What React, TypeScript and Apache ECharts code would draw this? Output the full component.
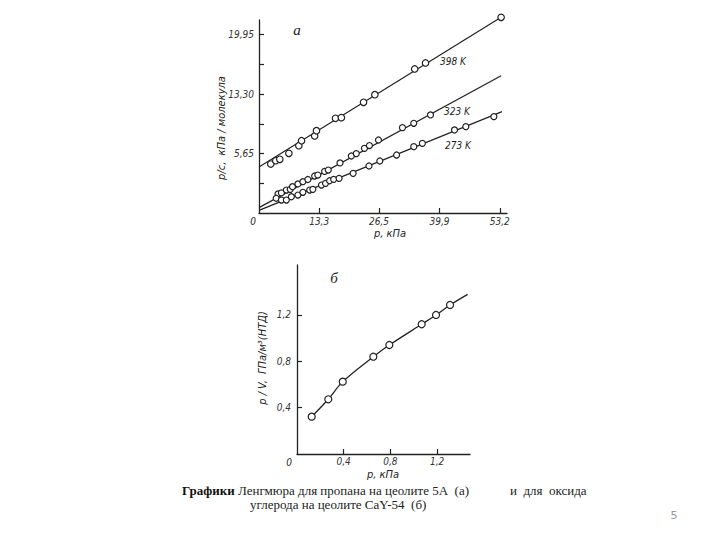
import React, { useEffect, useRef } from "react";
import * as echarts from "echarts";

// ---- Chart (а): Langmuir plots for propane on zeolite 5A ----
const xTicksA = [13.3, 26.5, 39.9, 53.2];
const xTickLabelsA = ["13,3", "26,5", "39,9", "53,2"];
const yMinorTicksA = [3.325, 6.65, 9.975, 13.3, 16.625, 19.95];
const yTicksA = [6.65, 13.3, 19.95];
const yTickLabelsA = ["5,65", "13,30", "19,95"];

const x398 = [2.6, 3.7, 4.6, 6.6, 8.8, 9.4, 12.3, 12.7, 16.9, 18.2, 23.1, 25.6, 34.4, 36.8, 53.5];
const y398 = [5.48, 5.85, 6.01, 6.68, 7.53, 8.09, 8.62, 9.21, 10.6, 10.67, 12.39, 13.24, 16.12, 16.79, 21.9];

const x323 = [4.2, 4.95, 6.05, 6.9, 7.4, 8.6, 9.7, 10.8, 12.3, 13.0, 14.5, 15.3, 17.9, 20.4, 21.5, 23.3, 24.4, 26.4, 31.7, 34.2, 37.9];
const y323 = [2.13, 2.25, 2.57, 2.65, 2.94, 3.25, 3.5, 3.75, 4.14, 4.25, 4.65, 4.81, 5.6, 6.38, 6.65, 7.24, 7.55, 8.17, 9.55, 10.04, 10.97];

const x273 = [3.8, 4.95, 6.05, 7.15, 8.6, 9.7, 11.2, 11.9, 13.8, 14.7, 15.6, 16.5, 17.7, 20.8, 24.3, 26.7, 30.4, 34.2, 36.1, 43.2, 45.7, 51.9];
const y273 = [1.65, 1.45, 1.45, 1.82, 2.01, 2.32, 2.57, 2.65, 3.13, 3.32, 3.61, 3.77, 3.88, 4.44, 5.26, 5.82, 6.49, 7.42, 7.8, 9.29, 9.66, 10.78];

const fitX398 = [0, 53.5];
const fitY398 = [5.15, 21.9];
const fitX323 = [0, 53.5];
const fitY323 = [0.6, 15.35];
const fitX273 = [0, 53.7];
const fitY273 = [0.3, 11.34];

// ---- Chart (б): CO on zeolite CaY-54 ----
const xTicksB = [0.4, 0.8, 1.2];
const xTickLabelsB = ["0,4", "0,8", "1,2"];
const yTicksB = [0.4, 0.8, 1.2];
const yTickLabelsB = ["0,4", "0,8", "1,2"];
const xB = [0.126, 0.268, 0.392, 0.654, 0.791, 1.068, 1.191, 1.311];
const yB = [0.322, 0.472, 0.624, 0.839, 0.94, 1.119, 1.199, 1.285];
const curveEndB = [1.462, 1.377];

const zip = (xs: number[], ys: number[]) => xs.map((x, i) => [x, ys[i]]);

const INK = "#222";
const LABEL_FONT = "'Liberation Sans Narrow', 'DejaVu Sans Condensed', 'DejaVu Sans', sans-serif";
const SERIF = "'Liberation Serif', 'DejaVu Serif', serif";

function axisCommon(ticks: number[], labels: string[], margin: number, labelTicks?: number[]) {
  const lt = labelTicks || ticks;
  return {
    type: "value" as const,
    axisLine: { show: true, lineStyle: { color: INK, width: 1.3 } },
    axisTick: { show: true, inside: true, length: 5, customValues: ticks, lineStyle: { color: INK, width: 1.2 } },
    axisLabel: {
      show: true,
      customValues: lt,
      formatter: (v: number) => {
        const i = lt.findIndex((t) => Math.abs(t - v) < 1e-6);
        return i >= 0 ? labels[i] : "";
      },
      fontFamily: LABEL_FONT,
      fontStyle: "italic",
      fontSize: 10,
      color: "#333",
      margin,
    },
    splitLine: { show: false },
  };
}

const fitLine = (data: number[][]) => ({
  type: "line",
  xAxisIndex: 0,
  yAxisIndex: 0,
  data,
  symbol: "none",
  clip: false,
  lineStyle: { color: INK, width: 1.2 },
  silent: true,
});

const dots = (data: number[][], axis: number, size: number) => ({
  type: "scatter",
  xAxisIndex: axis,
  yAxisIndex: axis,
  data,
  symbol: "circle",
  symbolSize: size,
  clip: false,
  itemStyle: { color: "#fff", borderColor: INK, borderWidth: 1.2, opacity: 1 },
  z: 3,
  silent: true,
});

const txt = (x: number, y: number, text: string, extra: any = {}) => ({
  type: "text",
  x,
  y,
  silent: true,
  style: {
    text,
    fill: "#222",
    font: `italic 10px ${LABEL_FONT}`,
    textAlign: "center",
    textVerticalAlign: "middle",
    ...extra,
  },
});

export default function App() {
  const ref = useRef<HTMLDivElement>(null);

  useEffect(() => {
    if (!ref.current) return;
    const chart = echarts.init(ref.current, undefined, { renderer: "svg" });

    const option: any = {
      animation: false,
      backgroundColor: "#fff",
      grid: [
        { left: 259, top: 20, width: 248, height: 193 },
        { left: 297, top: 265, width: 173, height: 189 },
      ],
      xAxis: [
        { ...axisCommon(xTicksA, xTickLabelsA, 3), gridIndex: 0, min: 0, max: 54.8 },
        { ...axisCommon(xTicksB, xTickLabelsB, 2), gridIndex: 1, min: 0, max: 1.482 },
      ],
      yAxis: [
        { ...axisCommon(yMinorTicksA, yTickLabelsA, 5, yTicksA), gridIndex: 0, min: 0, max: 21.6 },
        { ...axisCommon(yTicksB, yTickLabelsB, 6), gridIndex: 1, min: 0, max: 1.63 },
      ],
      series: [
        fitLine(zip(fitX398, fitY398)),
        fitLine(zip(fitX323, fitY323)),
        fitLine(zip(fitX273, fitY273)),
        dots(zip(x398, y398), 0, 6.5),
        dots(zip(x323, y323), 0, 6),
        dots(zip(x273, y273), 0, 6),
        {
          type: "line",
          xAxisIndex: 1,
          yAxisIndex: 1,
          data: [...zip(xB, yB), curveEndB],
          smooth: 0.35,
          symbol: "none",
          clip: false,
          lineStyle: { color: INK, width: 1.3 },
          silent: true,
        },
        dots(zip(xB, yB), 1, 7),
      ],
      graphic: [
        // chart а annotations
        txt(297, 30, "а", { font: `italic 15px ${SERIF}` }),
        txt(453, 61, "398 K"),
        txt(457, 111, "323 K"),
        txt(458, 145, "273 K"),
        txt(253, 221, "0"),
        txt(390, 233, "p, кПа", { font: `italic 11px ${LABEL_FONT}` }),
        {
          type: "text",
          x: 221,
          y: 128,
          rotation: Math.PI / 2,
          silent: true,
          style: {
            text: "p/c,  кПа / молекула",
            fill: "#222",
            font: `italic 11px ${LABEL_FONT}`,
            textAlign: "center",
            textVerticalAlign: "middle",
          },
        },
        // chart б annotations
        txt(334, 278, "б", { font: `italic 15px ${SERIF}` }),
        txt(289, 462, "0"),
        txt(383, 474, "p, кПа", { font: `italic 11px ${LABEL_FONT}` }),
        {
          type: "text",
          x: 262,
          y: 358,
          rotation: Math.PI / 2,
          silent: true,
          style: {
            text: "p / V,  ГПа/м³(НТД)",
            fill: "#222",
            font: `italic 11px ${LABEL_FONT}`,
            textAlign: "center",
            textVerticalAlign: "middle",
          },
        },
        // caption
        {
          type: "text",
          x: 182,
          y: 490,
          silent: true,
          style: {
            rich: {
              b: { font: `bold 13px ${SERIF}`, fill: "#111" },
              n: { font: `13px ${SERIF}`, fill: "#222" },
            },
            text: "{b|Графики} {n|Ленгмюра для пропана на цеолите 5А  (а)}",
            textVerticalAlign: "middle",
          },
        },
        {
          type: "text",
          x: 510,
          y: 490,
          silent: true,
          style: { text: "и  для  оксида", font: `13px ${SERIF}`, fill: "#222", textVerticalAlign: "middle" },
        },
        {
          type: "text",
          x: 250,
          y: 504,
          silent: true,
          style: { text: "углерода на цеолите CaY-54  (б)", font: `13px ${SERIF}`, fill: "#222", textVerticalAlign: "middle" },
        },
        {
          type: "text",
          x: 674,
          y: 515,
          silent: true,
          style: { text: "5", font: `11px 'DejaVu Sans', sans-serif`, fill: "#999", textAlign: "center", textVerticalAlign: "middle" },
        },
      ],
    };

    chart.setOption(option);
    return () => chart.dispose();
  }, []);

  return (
    <div
      ref={ref}
      style={{ position: "fixed", left: 0, top: 0, width: 720, height: 540, background: "#fff" }}
    />
  );
}
